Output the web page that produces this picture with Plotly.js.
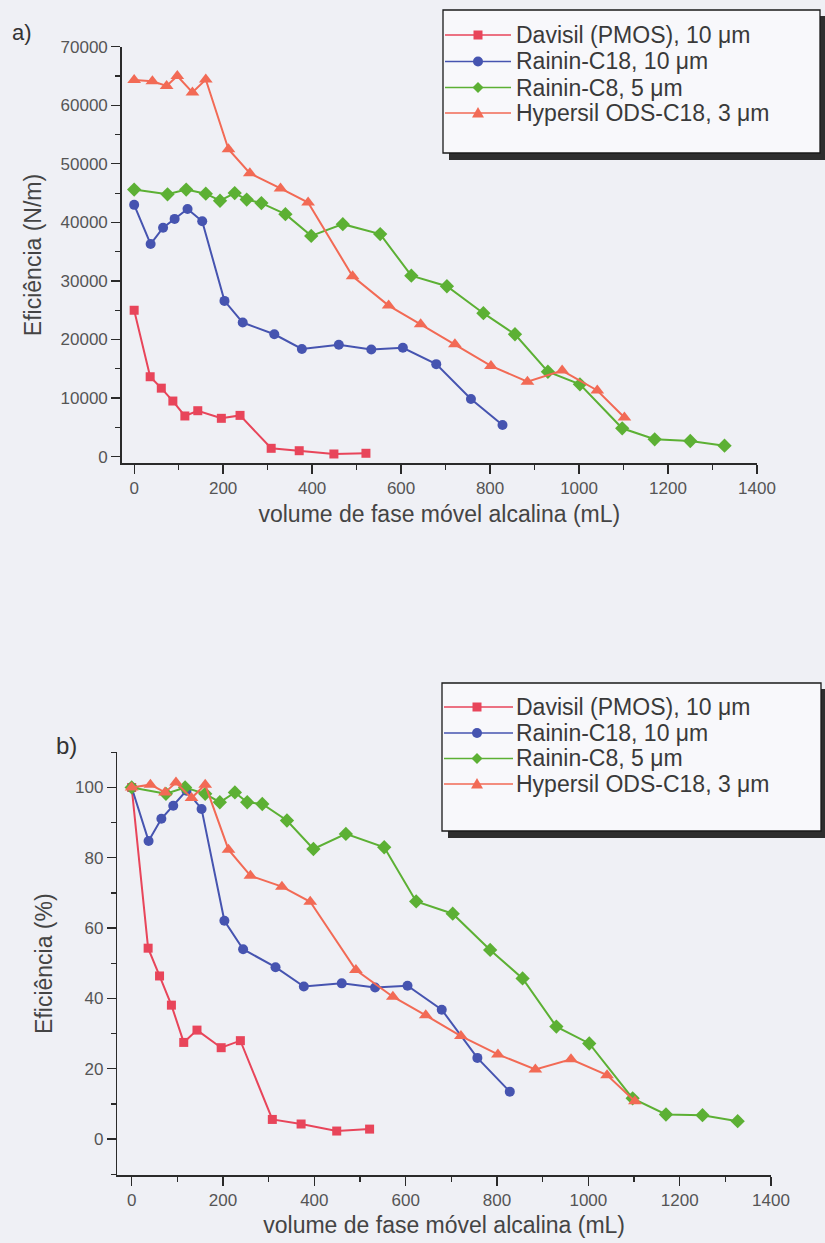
<!DOCTYPE html>
<html><head><meta charset="utf-8">
<script src="https://cdn.plot.ly/plotly-3.0.1.min.js"></script>
<style>html,body{margin:0;padding:0;background:#eff0f5}</style>
</head><body><div id="chart" style="width:825px;height:1243px"></div>
<script>
// ---------- data ----------
const seriesNames = ['Davisil (PMOS), 10 μm', 'Rainin-C18, 10 μm', 'Rainin-C8, 5 μm', 'Hypersil ODS-C18, 3 μm'];

const davisilX = [0, 36, 61, 87, 114, 143, 196, 238, 308, 371, 449, 521];
const davisilN = [25000, 13650, 11700, 9500, 6950, 7850, 6550, 7050, 1430, 1020, 460, 580];
const davisilP = [100, 54.3, 46.4, 38.1, 27.5, 31.0, 26.0, 28.0, 5.6, 4.3, 2.3, 2.85];

const c18X = [0, 37, 65, 91, 120, 153, 203, 244, 315, 377, 460, 533, 604, 679, 757, 828];
const c18N = [43000, 36300, 39100, 40600, 42300, 40200, 26600, 22900, 20900, 18400, 19100, 18300, 18600, 15800, 9850, 5400];
const c18P = [100, 84.8, 91.1, 94.8, 99.1, 93.9, 62.1, 54.0, 48.9, 43.4, 44.3, 43.1, 43.6, 36.8, 23.1, 13.5];

const c8X = [0, 75, 117, 161, 193, 226, 253, 286, 340, 398, 469, 553, 623, 703, 785, 856, 930, 1002, 1097, 1170, 1250, 1327];
const c8N = [45600, 44800, 45600, 44900, 43700, 45000, 43900, 43300, 41400, 37700, 39700, 38000, 30900, 29100, 24500, 20900, 14500, 12350, 4850, 2970, 2680, 1880];
const c8P = [100, 98.2, 100, 98.2, 95.8, 98.6, 95.8, 95.3, 90.6, 82.5, 86.8, 83.0, 67.6, 64.1, 53.8, 45.7, 32.0, 27.2, 11.6, 7.0, 6.8, 5.1];

const hypX = [0, 41, 73, 97, 131, 161, 212, 260, 329, 391, 491, 572, 644, 721, 802, 884, 962, 1041, 1102];
const hypN = [64300, 64100, 63300, 65000, 62200, 64400, 52500, 48400, 45800, 43400, 30800, 25800, 22600, 19200, 15500, 12800, 14700, 11300, 6700];
const hypP = [100, 100.8, 98.6, 101.4, 97, 100.8, 82.3, 74.9, 71.8, 67.5, 48.1, 40.5, 35.2, 29.3, 24.1, 19.8, 22.7, 18.2, 10.8];

const xTitle = 'volume de fase móvel alcalina (mL)';
const yTitleA = 'Eficiência (N/m)';
const yTitleB = 'Eficiência (%)';

// ---------- styling ----------
const W = 825, H = 1243;
const px = v => v / W;
const py = v => 1 - v / H;
const FONT = 'Liberation Sans, Arial, Helvetica, sans-serif';
const BG = '#eff0f5';

const styles = [
  {color: '#e8455a', symbol: 'square', size: 9},
  {color: '#4654b0', symbol: 'circle', size: 10},
  {color: '#5cb034', symbol: 'diamond', size: 11},
  {color: '#f26a55', symbol: 'triangle-up', size: 12}
];

const seriesX = [davisilX, c18X, c8X, hypX];
const seriesA = [davisilN, c18N, c8N, hypN];
const seriesB = [davisilP, c18P, c8P, hypP];

const traces = [];
[['x', 'y', seriesA], ['x2', 'y2', seriesB]].forEach(([xa, ya, vals]) => {
  for (let i = 0; i < 4; i++) {
    traces.push({
      type: 'scatter', mode: 'lines+markers', name: seriesNames[i],
      x: seriesX[i], y: vals[i], xaxis: xa, yaxis: ya, showlegend: false,
      line: {color: styles[i].color, width: 2},
      marker: {color: styles[i].color, symbol: styles[i].symbol, size: styles[i].size,
               line: {width: 0}},
      cliponaxis: false
    });
  }
});

function axisBase() {
  return {
    showline: true, linecolor: '#2a2a2a', linewidth: 1.5, mirror: false,
    ticks: 'outside', ticklen: 9, tickwidth: 1.3, tickcolor: '#2a2a2a',
    showgrid: false, zeroline: false, fixedrange: true, tickformat: 'd',
    tickfont: {family: FONT, size: 17, color: '#555'},
    title: {font: {family: FONT, size: 23, color: '#444'}}
  };
}

const xa = Object.assign(axisBase(), {
  domain: [px(121.7), px(757)], range: [-28, 1400], anchor: 'y',
  tick0: 0, dtick: 200,
  minor: {ticks: 'outside', ticklen: 5, dtick: 100, tickcolor: '#2a2a2a', tickwidth: 1.2}
});
xa.title.text = xTitle; xa.title.standoff = 8;

const ya = Object.assign(axisBase(), {
  domain: [py(463.3), py(46.7)], range: [-1130, 70000], anchor: 'x',
  tick0: 0, dtick: 10000,
  minor: {ticks: 'outside', ticklen: 5, dtick: 5000, tickcolor: '#2a2a2a', tickwidth: 1.2}
});
ya.title.text = yTitleA; ya.title.standoff = 12;

const xb = Object.assign(axisBase(), {
  domain: [px(117.3), px(771)], range: [-31.5, 1400], anchor: 'y2',
  tick0: 0, dtick: 200,
  minor: {ticks: 'outside', ticklen: 5, dtick: 100, tickcolor: '#2a2a2a', tickwidth: 1.2}
});
xb.title.text = xTitle; xb.title.standoff = 8;

const yb = Object.assign(axisBase(), {
  domain: [py(1175), py(752.3)], range: [-10.2, 110], anchor: 'x2',
  tick0: 0, dtick: 20,
  minor: {ticks: 'outside', ticklen: 5, dtick: 10, tickcolor: '#2a2a2a', tickwidth: 1.2}
});
yb.title.text = yTitleB; yb.title.standoff = 16;

// ---------- legends (boxes with drop shadow) ----------
const shapes = [];
const annotations = [];

function legend(box, rowsY, lineX0, lineX1, markX, textX) {
  shapes.push({type: 'rect', xref: 'paper', yref: 'paper', layer: 'below',
    x0: px(box.x0 + 6), x1: px(box.x1 + 6), y0: py(box.y1 + 7), y1: py(box.y0 + 6),
    fillcolor: '#2e2e2e', line: {width: 0}});
  shapes.push({type: 'rect', xref: 'paper', yref: 'paper', layer: 'below',
    x0: px(box.x0), x1: px(box.x1), y0: py(box.y1), y1: py(box.y0),
    fillcolor: '#f8f8fb', line: {color: '#1a1a1a', width: 1.3}});
  rowsY.forEach((ry, i) => {
    const c = styles[i].color;
    shapes.push({type: 'line', xref: 'paper', yref: 'paper',
      x0: px(lineX0), x1: px(lineX1), y0: py(ry), y1: py(ry), line: {color: c, width: 1.6}});
    const base = {xref: 'paper', yref: 'paper', xsizemode: 'pixel', ysizemode: 'pixel',
      xanchor: px(markX), yanchor: py(ry), fillcolor: c, line: {width: 0}};
    if (i === 0) shapes.push(Object.assign({type: 'rect', x0: -4.5, x1: 4.5, y0: -4.5, y1: 4.5}, base));
    if (i === 1) shapes.push(Object.assign({type: 'circle', x0: -5, x1: 5, y0: -5, y1: 5}, base));
    if (i === 2) shapes.push(Object.assign({type: 'path', path: 'M0,5.5 L5.5,0 L0,-5.5 L-5.5,0 Z'}, base));
    if (i === 3) shapes.push(Object.assign({type: 'path', path: 'M-6,-4.5 L6,-4.5 L0,6 Z'}, base));
    annotations.push({xref: 'paper', yref: 'paper', x: px(textX), y: py(ry),
      xanchor: 'left', yanchor: 'middle', showarrow: false, text: seriesNames[i],
      font: {family: FONT, size: 23, color: '#3a3a3a'}});
  });
}
legend({x0: 443, x1: 820, y0: 10, y1: 153}, [35, 61.5, 87.5, 113], 445, 511, 478, 514);
legend({x0: 442, x1: 821, y0: 683, y1: 831}, [707, 733, 758.5, 784], 444, 513, 477, 514);

annotations.push({xref: 'paper', yref: 'paper', x: px(10), y: py(32), xanchor: 'left', yanchor: 'middle',
  showarrow: false, text: 'a)', font: {family: FONT, size: 22, color: '#333'}});
annotations.push({xref: 'paper', yref: 'paper', x: px(54), y: py(745), xanchor: 'left', yanchor: 'middle',
  showarrow: false, text: 'b)', font: {family: FONT, size: 24, color: '#333'}});

const layout = {
  width: W, height: H, margin: {l: 0, r: 0, t: 0, b: 0},
  paper_bgcolor: BG, plot_bgcolor: BG, showlegend: false,
  font: {family: FONT},
  xaxis: xa, yaxis: ya, xaxis2: xb, yaxis2: yb,
  shapes: shapes, annotations: annotations
};

Plotly.newPlot('chart', traces, layout, {staticPlot: true, displayModeBar: false});
</script></body></html>
